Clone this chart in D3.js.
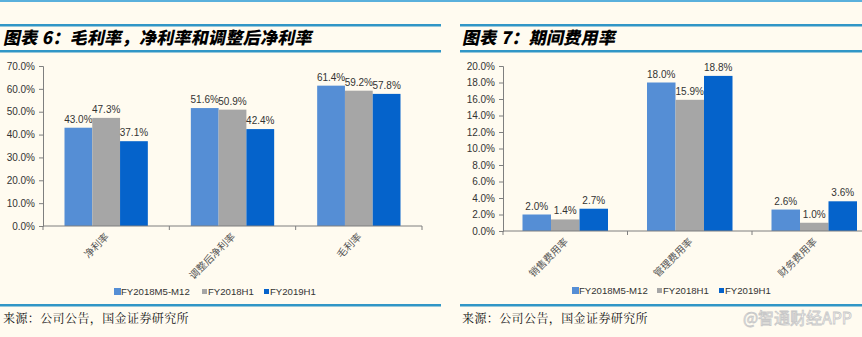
<!DOCTYPE html>
<html><head><meta charset="utf-8">
<script src="https://cdn.jsdelivr.net/npm/d3@7"></script>
<style>
body{margin:0;background:#FFFBF0;}
svg{display:block;}
</style></head>
<body><svg id="c" width="862" height="337"></svg>
<script>
const seriesNames = ["FY2018M5-M12","FY2018H1","FY2019H1"];
const seriesColors = ["#558ED5","#A6A6A6","#0563CB"];

const leftTitle = "图表 6：毛利率，净利率和调整后净利率";
const leftCategories = ["净利率","调整后净利率","毛利率"];
const leftS1 = [43.0, 51.6, 61.4];
const leftS2 = [47.3, 50.9, 59.2];
const leftS3 = [37.1, 42.4, 57.8];
const leftTicks = [0,10,20,30,40,50,60,70];

const rightTitle = "图表 7：期间费用率";
const rightCategories = ["销售费用率","管理费用率","财务费用率"];
const rightS1 = [2.0, 18.0, 2.6];
const rightS2 = [1.4, 15.9, 1.0];
const rightS3 = [2.7, 18.8, 3.6];
const rightTicks = [0,2,4,6,8,10,12,14,16,18,20];

const sourceText = "来源：公司公告，国金证券研究所";
const watermark = "@智通财经APP";

const svg = d3.select("#c");
const lineColor = "#3196C6";

svg.append("rect").attr("x",0).attr("y",0).attr("width",862).attr("height",2).attr("fill","#5AB0DC");

function panel(o){
  const g = svg.append("g");
  g.append("rect").attr("x",o.lx0).attr("y",24).attr("width",o.lx1-o.lx0).attr("height",2.5).attr("fill",lineColor);
  g.append("rect").attr("x",o.lx0).attr("y",50).attr("width",o.lx1-o.lx0).attr("height",2.5).attr("fill",lineColor);
  g.append("text").attr("x",o.tx).attr("y",44).text(o.title)
    .attr("font-family","'Noto Sans CJK SC', sans-serif").attr("font-weight","900")
    .attr("font-size",17).attr("fill","#000").attr("letter-spacing",0.3)
    .attr("transform","skewX(-12)")
    .attr("transform-origin",`${o.tx} 44`);
  g.append("rect").attr("x",o.lx0).attr("y",304).attr("width",o.lx1-o.lx0).attr("height",2.5).attr("fill",lineColor);
  g.append("text").attr("x",o.tx).attr("y",323).text(sourceText)
    .attr("font-family","'Noto Serif CJK SC','Noto Sans CJK SC',serif")
    .attr("font-size",12).attr("fill","#111").attr("letter-spacing",0.4);

  const x = d3.scaleBand().domain(o.categories).range([o.x0,o.x1]);
  const y = d3.scaleLinear().domain([0,o.ticks[o.ticks.length-1]]).range([o.y0,o.y1]);
  const data = [o.s1,o.s2,o.s3];
  const bw = (x.bandwidth()-2*o.pad)/3;

  const ya = d3.axisLeft(y).tickValues(o.ticks).tickSize(4).tickFormat(d=>d.toFixed(1)+"%");
  const yg = g.append("g").attr("transform",`translate(${o.x0},0)`).call(ya);
  yg.select(".domain").attr("stroke","#7f7f7f");
  yg.selectAll(".tick line").attr("stroke","#7f7f7f");
  yg.selectAll("text").attr("font-family","Arial, 'Liberation Sans', sans-serif").attr("font-size",10).attr("fill","#333").attr("dx",-1);

  seriesNames.forEach((s,i)=>{
    g.selectAll(null).data(o.categories).enter().append("rect")
      .attr("x",c=>x(c)+o.pad+i*bw).attr("width",bw)
      .attr("y",(c,j)=>y(data[i][j])).attr("height",(c,j)=>o.y0-y(data[i][j]))
      .attr("fill",seriesColors[i]);
    g.selectAll(null).data(o.categories).enter().append("text")
      .attr("x",c=>x(c)+o.pad+i*bw+bw/2).attr("y",(c,j)=>y(data[i][j])-5)
      .attr("text-anchor","middle").text((c,j)=>data[i][j].toFixed(1)+"%")
      .attr("font-family","Arial, 'Liberation Sans', sans-serif").attr("font-size",10).attr("fill","#333");
  });

  g.append("line").attr("x1",o.x0).attr("x2",o.x1).attr("y1",o.y0).attr("y2",o.y0).attr("stroke","#7f7f7f");
  const bounds = o.categories.map(c=>x(c)).concat([o.x1]);
  g.selectAll(null).data(bounds).enter().append("line")
    .attr("x1",d=>d).attr("x2",d=>d).attr("y1",o.y0).attr("y2",o.y0+4).attr("stroke","#7f7f7f");
  g.selectAll(null).data(o.categories).enter().append("text")
    .attr("transform",c=>`translate(${x(c)+x.bandwidth()/2+1},${o.y0+9}) rotate(-45)`)
    .attr("text-anchor","end").attr("dy","0.35em").text(c=>c)
    .attr("font-family","'Noto Sans CJK SC', sans-serif").attr("font-size",10).attr("fill","#555");

  const lg = g.append("g");
  seriesNames.forEach((s,i)=>{
    const sz = i===0?7:5;
    lg.append("rect").attr("x",o.legPos[i]).attr("y",o.legY-sz/2-3.5).attr("width",sz).attr("height",sz).attr("fill",seriesColors[i]);
    lg.append("text").attr("x",o.legPos[i]+(i===0?7:6)).attr("y",o.legY).text(s)
      .attr("font-family","Arial, 'Liberation Sans', sans-serif").attr("font-size",9.6).attr("fill","#333");
  });
}

panel({lx0:0,lx1:441,tx:3,title:leftTitle,categories:leftCategories,s1:leftS1,s2:leftS2,s3:leftS3,
  ticks:leftTicks,x0:43,x1:422,y0:226,y1:66,pad:21.5,legY:295,legPos:[114,202,264]});
panel({lx0:460,lx1:862,tx:462,title:rightTitle,categories:rightCategories,s1:rightS1,s2:rightS2,s3:rightS3,
  ticks:rightTicks,x0:503,x1:876.5,y0:231,y1:66,pad:19.5,legY:294,legPos:[572,657,719]});

svg.append("text").attr("x",852).attr("y",324).attr("text-anchor","end").text(watermark)
  .attr("font-family","'Noto Sans CJK SC', sans-serif").attr("font-size",16).attr("fill","#ffffff")
  .attr("stroke","#c8c8c8").attr("stroke-width",0.8);
</script></body></html>
